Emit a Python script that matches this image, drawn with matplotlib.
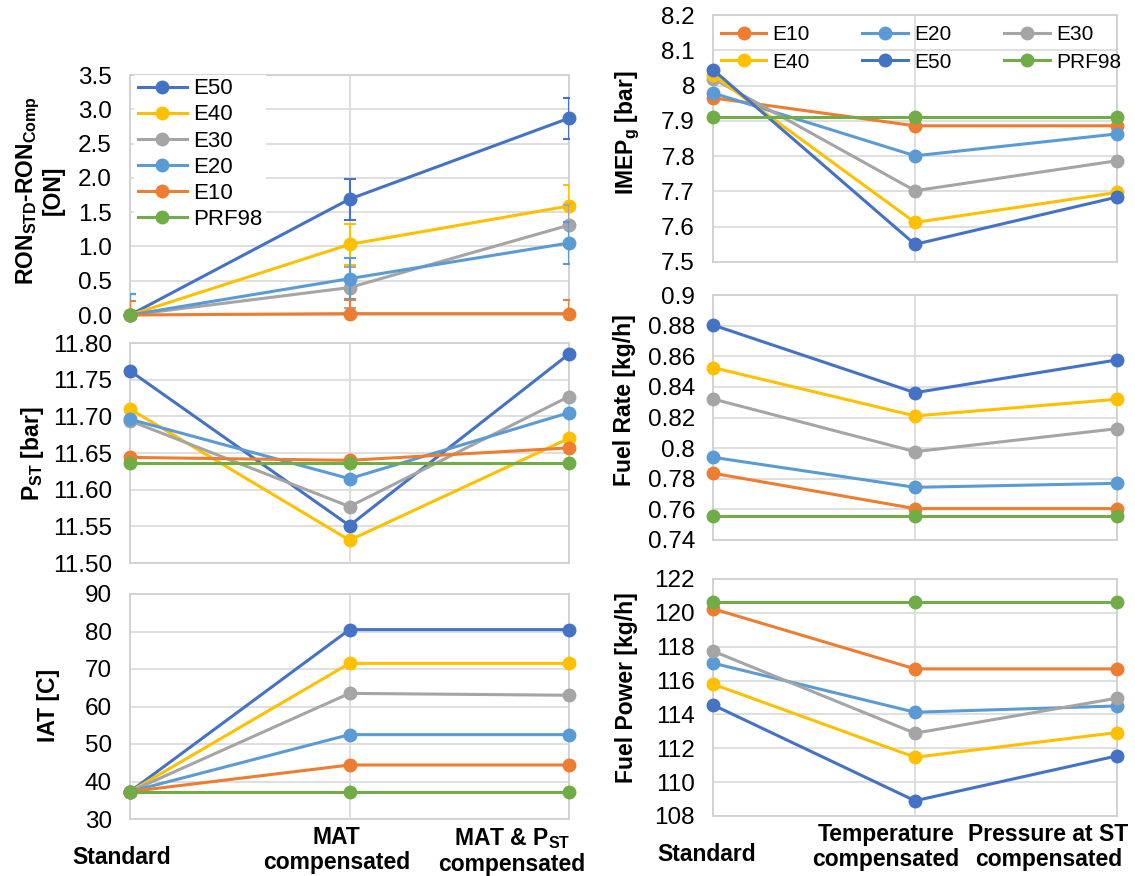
import numpy as np
import matplotlib
matplotlib.use("Agg")
import matplotlib.pyplot as plt
from matplotlib.ticker import FormatStrFormatter
from matplotlib.lines import Line2D

plt.rcParams['font.family'] = ['Liberation Sans', 'DejaVu Sans']
plt.rcParams['mathtext.default'] = 'regular'

# ---- data ----
fuels = ["E10", "E20", "E30", "E40", "E50", "PRF98"]
colors = {"E10": "#ED7D31", "E20": "#5B9BD5", "E30": "#A5A5A5",
          "E40": "#FFC000", "E50": "#4472C4", "PRF98": "#70AD47"}

stages_left = ["Standard", "MAT\ncompensated", "MAT & P$_{ST}$\ncompensated"]
stages_right = ["Standard", "Temperature\ncompensated", "Pressure at ST\ncompensated"]
x = [0, 1, 2]

ron = {"E50": [0, 1.69, 2.87], "E40": [0, 1.03, 1.59], "E30": [0, 0.40, 1.31],
       "E20": [0, 0.53, 1.05], "E10": [0, 0.02, 0.02], "PRF98": [0, np.nan, np.nan]}
ron_err = {"E50": 0.3, "E40": 0.3, "E30": 0.3, "E20": 0.3, "E10": 0.2, "PRF98": 0}

p_st = {"E50": [11.762, 11.551, 11.785], "E40": [11.710, 11.531, 11.670],
        "E30": [11.694, 11.577, 11.727], "E20": [11.696, 11.615, 11.705],
        "E10": [11.644, 11.640, 11.657], "PRF98": [11.637, 11.637, 11.637]}

iat = {"E50": [37.3, 80.5, 80.5], "E40": [37.3, 71.5, 71.5], "E30": [37.3, 63.5, 63.0],
       "E20": [37.3, 52.5, 52.5], "E10": [37.3, 44.4, 44.4], "PRF98": [37.3, 37.3, 37.3]}

imep = {"E10": [7.965, 7.886, 7.886], "E20": [7.979, 7.801, 7.863],
        "E30": [8.020, 7.702, 7.787], "E40": [8.030, 7.612, 7.697],
        "E50": [8.045, 7.550, 7.684], "PRF98": [7.911, 7.911, 7.911]}

fuel_rate = {"E10": [0.7836, 0.7605, 0.7605], "E20": [0.7940, 0.7744, 0.7770],
             "E30": [0.8321, 0.7977, 0.8127], "E40": [0.8526, 0.8210, 0.8319],
             "E50": [0.8804, 0.8362, 0.8576], "PRF98": [0.7555, 0.7555, 0.7555]}

fuel_power = {"E10": [120.24, 116.69, 116.69], "E20": [117.03, 114.13, 114.50],
              "E30": [117.74, 112.89, 114.96], "E40": [115.79, 111.47, 112.93],
              "E50": [114.56, 108.90, 111.55], "PRF98": [120.64, 120.64, 120.64]}

order_left = ["E50", "E40", "E30", "E20", "E10", "PRF98"]
order_right = ["E10", "E20", "E30", "E40", "E50", "PRF98"]

W, H = 1135, 876
fig = plt.figure(figsize=(W / 100, H / 100), dpi=100)


def add_ax(x0, x1, ytop, ybot):
    return fig.add_axes([x0 / W, 1 - ybot / H, (x1 - x0) / W, (ybot - ytop) / H])


def style(ax, lo, hi, step, fmt):
    ax.set_xlim(0, 2)
    ax.set_ylim(lo, hi)
    ax.set_xticks(x)
    ax.set_xticklabels([])
    ax.set_yticks(np.arange(lo, hi + step / 2, step))
    ax.yaxis.set_major_formatter(FormatStrFormatter(fmt))
    ax.tick_params(length=0, labelsize=17.5, pad=13)
    ax.grid(True, color="#D9D9D9", lw=1.2)
    ax.set_axisbelow(True)
    for s in ax.spines.values():
        s.set_color("#D0D0D0")
        s.set_linewidth(1.3)


def lines(ax, data, order):
    for f in order:
        ax.plot(x, data[f], color=colors[f], marker="o", ms=9, lw=2.2,
                label=f, clip_on=False, zorder=3)


lw_ = dict(fontsize=16.5, fontweight="bold", rotation=90, ha="center", va="center")

# ---- left column ----
ax1 = add_ax(130, 569, 75, 315)
style(ax1, 0, 3.5, 0.5, "%.1f")
for f in order_left:
    if ron_err[f]:
        ax1.errorbar(x, ron[f], yerr=ron_err[f], fmt="none", ecolor=colors[f],
                     elinewidth=1.5, capsize=4, capthick=1.5, zorder=3)
    ax1.plot(x, ron[f], color=colors[f], marker="o", ms=9, lw=2.2,
             clip_on=False, zorder=3)
proxies = [Line2D([], [], color=colors[f], marker="o", ms=9, lw=2.2) for f in order_left]
leg = ax1.legend(proxies, order_left, loc="upper left", bbox_to_anchor=(0.01, 1.0),
                 borderaxespad=0, labelspacing=0.23, frameon=True, fancybox=False,
                 borderpad=0.15, fontsize=16, handlelength=2.2, handletextpad=0.3)
leg.get_frame().set_edgecolor("none")
leg.get_frame().set_alpha(1)
fig.text(40 / W, 1 - 190 / H, "RON$_{STD}$-RON$_{Comp}$\n[ON]", linespacing=1.0, **lw_)

ax2 = add_ax(130, 569, 343, 563)
style(ax2, 11.5, 11.8, 0.05, "%.2f")
lines(ax2, p_st, order_left)
fig.text(32 / W, 1 - 454 / H, "P$_{ST}$ [bar]", **lw_)

ax3 = add_ax(130, 569, 594, 819)
style(ax3, 30, 90, 10, "%d")
lines(ax3, iat, order_left)
fig.text(48 / W, 1 - 705 / H, "IAT [C]", **lw_)

tr = ax3.get_xaxis_transform()
xl_pos = [-0.04, 0.94, 1.74]
xl_off = [-0.122, -0.032, -0.032]
for xp, yo, lab in zip(xl_pos, xl_off, stages_left):
    ax3.text(xp, yo, lab, transform=tr, ha="center", va="top", fontsize=16.5,
             fontweight="bold", linespacing=1.1)

# ---- right column ----
ax4 = add_ax(713, 1117, 15, 262)
style(ax4, 7.5, 8.2, 0.1, "%g")
lines(ax4, imep, order_right)
h, l = ax4.get_legend_handles_labels()
idx = [0, 3, 1, 4, 2, 5]
ax4.legend([h[i] for i in idx], [l[i] for i in idx], ncol=3, loc="upper left",
           bbox_to_anchor=(-0.007, 1.0), borderaxespad=0.1, labelspacing=0.4,
           columnspacing=2.5, frameon=False, fontsize=15, handlelength=2.2,
           handletextpad=0.3)
fig.text(628 / W, 1 - 133 / H, "IMEP$_g$ [bar]", **lw_)

ax5 = add_ax(713, 1117, 295, 540)
style(ax5, 0.74, 0.9, 0.02, "%g")
lines(ax5, fuel_rate, order_right)
fig.text(625 / W, 1 - 400 / H, "Fuel Rate [kg/h]", **lw_)

ax6 = add_ax(713, 1117, 579, 816)
style(ax6, 108, 122, 2, "%d")
lines(ax6, fuel_power, order_right)
fig.text(626 / W, 1 - 688 / H, "Fuel Power [kg/h]", **lw_)

tr = ax6.get_xaxis_transform()
xr_pos = [-0.03, 0.855, 1.66]
xr_off = [-0.115, -0.03, -0.03]
for xp, yo, lab in zip(xr_pos, xr_off, stages_right):
    ax6.text(xp, yo, lab, transform=tr, ha="center", va="top", fontsize=16.5,
             fontweight="bold", linespacing=1.1)

fig.savefig("out.png", dpi=100)
